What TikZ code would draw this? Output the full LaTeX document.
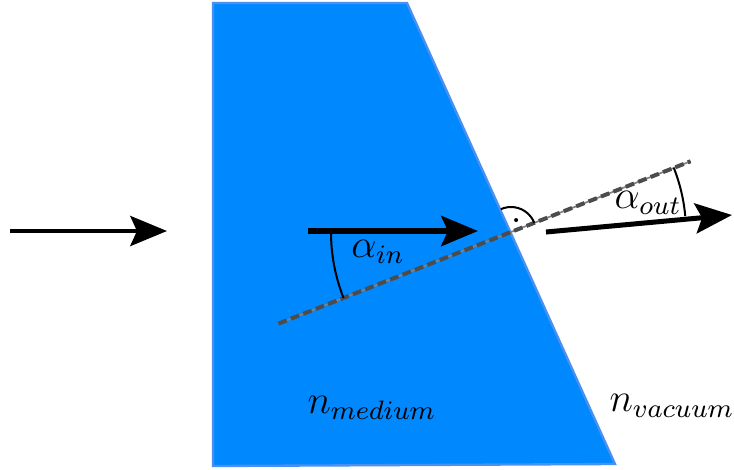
\documentclass[tikz,border=0pt]{standalone}
\usepackage{xcolor}
\usepackage{tikz}
\usetikzlibrary{arrows.meta,calc}

\definecolor{glassfill}{HTML}{0088FF}
\definecolor{glassedge}{HTML}{4A90F0}

\begin{document}
\begin{tikzpicture}[x=0.3pt,y=0.3pt,
    ray/.style={line width=#1,-{Stealth[length=11pt,width=9pt,inset=2pt]}},
    anglearc/.style={line width=0.6pt},
    label/.style={font=\large}]
  \useasboundingbox (0,0) rectangle (734,469);

  % Medium (trapezoid)
  \coordinate (tl) at (213,466);
  \coordinate (tr) at (407,466);
  \coordinate (br) at (615,5);
  \coordinate (bl) at (213,3);
  \draw[glassedge,line width=0.7pt,fill=glassfill] (tl)--(tr)--(br)--(bl)--cycle;

  % Surface normal through the exit point
  \coordinate (O) at (511,237);
  \coordinate (nin) at ($(O)+(201.5:250)$);
  \coordinate (nout) at ($(O)+(21.5:193)$);
  \draw[gray,line width=0.5pt] (nin)--(nout);
  \draw[black!70,line width=1.2pt,dash pattern=on 2.7pt off 1.3pt] (nin)--(nout);

  % Rays
  \coordinate (a0) at (10,238);
  \coordinate (a1) at (167,238);
  \coordinate (b0) at (308,238);
  \coordinate (b1) at (478,238);
  \coordinate (c0) at (546,237);
  \coordinate (c1) at (732,254);
  \draw[ray=1.3pt] (a0)--(a1);
  \draw[ray=1.8pt] (b0)--(b1);
  \draw[ray=1.5pt] (c0)--(c1);

  % Angles
  \draw[anglearc] ($(O)+(180:180)$) arc (180:201.5:180);
  \draw[anglearc] ($(O)+(5.2:175)$) arc (5.2:21.5:175);
  \draw[anglearc] ($(O)+(21.5:25)$) arc (21.5:114:25);
  \fill ($(O)+(67:13)$) circle (2);

  % Labels
  \node[label] (ain) at (378,217) {$\alpha_{in}$};
  \node[label] (aout) at (648,266) {$\alpha_{out}$};
  \node[label] (nmed) at (372,61) {$n_{medium}$};
  \node[label] (nvac) at (672,63) {$n_{vacuum}$};
\end{tikzpicture}
\end{document}
